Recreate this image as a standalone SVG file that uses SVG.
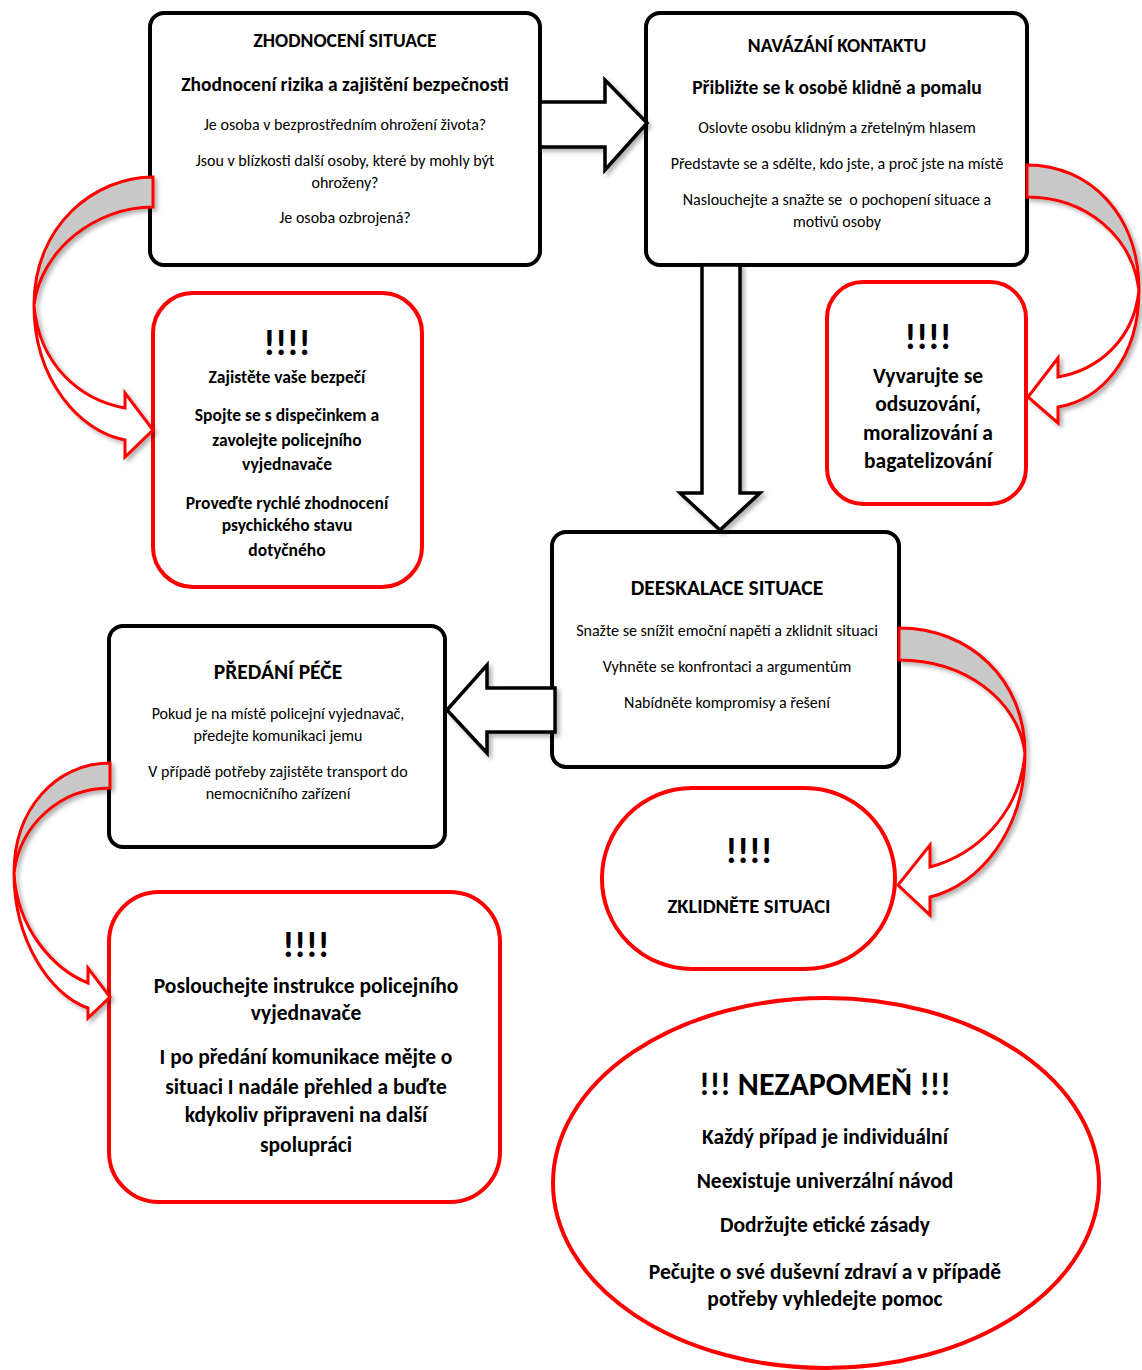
<svg xmlns="http://www.w3.org/2000/svg" width="1142" height="1370" viewBox="0 0 1142 1370">
<style>
text{font-family:Carlito,Lato,"Open Sans","Liberation Sans",sans-serif;fill:#000;text-anchor:middle}
.bx{fill:#fff;stroke:#000;stroke-width:4}
.rb{fill:#fff;stroke:#ff0000;stroke-width:4}
.ba{fill:#fff;stroke:#000;stroke-width:3.5;stroke-linejoin:miter}
.cg{fill:#c8c8c8;stroke:#ff0000;stroke-width:3;stroke-linejoin:miter}
.cw{fill:#fff;stroke:#ff0000;stroke-width:3;stroke-linejoin:miter}
.h{font-size:19.5px;font-weight:600}
.s{font-size:19.5px;font-weight:700}
.n{font-size:16px}
.ex{font-size:36px;font-weight:700}
.rt{font-size:17.5px;font-weight:700}
.rt2{font-size:21.5px;font-weight:700}
.h2{font-size:21.5px;font-weight:700}
</style>
<defs>
<filter id="sh" x="-20%" y="-20%" width="150%" height="150%">
<feDropShadow dx="3" dy="3" stdDeviation="2" flood-color="#000" flood-opacity="0.3"/>
</filter>
</defs>
<rect width="1142" height="1370" fill="#fff"/>

<g id="n1">
<rect class="bx" x="150" y="13" width="390" height="252" rx="14"/>
<text class="h" x="345" y="47">ZHODNOCENÍ SITUACE</text>
<text class="s" x="345" y="91">Zhodnocení rizika a zajištění bezpečnosti</text>
<text class="n" x="345" y="130">Je osoba v bezprostředním ohrožení života?</text>
<text class="n" x="345" y="166">Jsou v blízkosti další osoby, které by mohly být</text>
<text class="n" x="345" y="188">ohroženy?</text>
<text class="n" x="345" y="223">Je osoba ozbrojená?</text>
</g>

<g id="n2">
<rect class="bx" x="646" y="13" width="381" height="252" rx="14"/>
<text class="h" x="837" y="52">NAVÁZÁNÍ KONTAKTU</text>
<text class="s" x="837" y="94">Přibližte se k osobě klidně a pomalu</text>
<text class="n" x="837" y="133">Oslovte osobu klidným a zřetelným hlasem</text>
<text class="n" x="837" y="169">Představte se a sdělte, kdo jste, a proč jste na místě</text>
<text class="n" x="837" y="205" xml:space="preserve">Naslouchejte a snažte se  o pochopení situace a</text>
<text class="n" x="837" y="227">motivů osoby</text>
</g>

<g id="n3">
<rect class="rb" x="153" y="293" width="269" height="294" rx="40"/>
<text class="ex" x="287" y="355">!!!!</text>
<text class="rt" x="287" y="383">Zajistěte vaše bezpečí</text>
<text class="rt" x="287" y="421">Spojte se s dispečinkem a</text>
<text class="rt" x="287" y="446">zavolejte policejního</text>
<text class="rt" x="287" y="470">vyjednavače</text>
<text class="rt" x="287" y="509">Proveďte rychlé zhodnocení</text>
<text class="rt" x="287" y="531">psychického stavu</text>
<text class="rt" x="287" y="556">dotyčného</text>
</g>

<g id="n4">
<rect class="rb" x="827" y="282" width="199" height="222" rx="36"/>
<text class="ex" x="928" y="349">!!!!</text>
<text class="rt2" x="928" y="383">Vyvarujte se</text>
<text class="rt2" x="928" y="411">odsuzování,</text>
<text class="rt2" x="928" y="440">moralizování a</text>
<text class="rt2" x="928" y="468">bagatelizování</text>
</g>

<g id="n5">
<rect class="bx" x="552" y="532" width="347" height="235" rx="14"/>
<text class="h2" x="727" y="595">DEESKALACE SITUACE</text>
<text class="n" x="727" y="636">Snažte se snížit emoční napětí a zklidnit situaci</text>
<text class="n" x="727" y="672">Vyhněte se konfrontaci a argumentům</text>
<text class="n" x="727" y="708">Nabídněte kompromisy a řešení</text>
</g>

<g id="n6">
<rect class="bx" x="109" y="626" width="336" height="221" rx="14"/>
<text class="h2" x="278" y="679">PŘEDÁNÍ PÉČE</text>
<text class="n" x="278" y="719">Pokud je na místě policejní vyjednavač,</text>
<text class="n" x="278" y="741">předejte komunikaci jemu</text>
<text class="n" x="278" y="777">V případě potřeby zajistěte transport do</text>
<text class="n" x="278" y="799">nemocničního zařízení</text>
</g>

<g id="n7">
<rect class="rb" x="602" y="788" width="293" height="181" rx="90"/>
<text class="ex" x="749" y="863">!!!!</text>
<text x="749" y="913" style="font-size:20.5px;font-weight:700">ZKLIDNĚTE SITUACI</text>
</g>

<g id="n8">
<rect class="rb" x="109" y="892" width="391" height="310" rx="50"/>
<text class="ex" x="306" y="957">!!!!</text>
<text class="rt2" x="306" y="993">Poslouchejte instrukce policejního</text>
<text class="rt2" x="306" y="1020">vyjednavače</text>
<text class="rt2" x="306" y="1064">I po předání komunikace mějte o</text>
<text class="rt2" x="306" y="1094">situaci I nadále přehled a buďte</text>
<text class="rt2" x="306" y="1122">kdykoliv připraveni na další</text>
<text class="rt2" x="306" y="1152">spolupráci</text>
</g>

<g id="n9">
<ellipse class="rb" cx="826" cy="1183" rx="273" ry="185"/>
<text x="825" y="1095" style="font-size:32px;font-weight:700">!!! NEZAPOMEŇ !!!</text>
<text class="rt2" x="825" y="1144">Každý případ je individuální</text>
<text class="rt2" x="825" y="1188">Neexistuje univerzální návod</text>
<text class="rt2" x="825" y="1232">Dodržujte etické zásady</text>
<text class="rt2" x="825" y="1279">Pečujte o své duševní zdraví a v případě</text>
<text class="rt2" x="825" y="1306">potřeby vyhledejte pomoc</text>
</g>

<g id="connectors">
<polygon class="ba" filter="url(#sh)" points="540,102 605,102 605,80 647,123 605,170 605,147 540,147"/>
<polygon class="ba" filter="url(#sh)" points="702,265 702,493 680,493 720,530 760,493 740,493 740,265"/>
<polygon class="ba" filter="url(#sh)" points="555,688 487,688 487,665 447,710 487,753 487,732 555,732"/>

<g filter="url(#sh)">
<path class="cg" d="M153,177 C95,177 34,225 34,305 C41,250 95,207 153,207 Z"/>
<path class="cw" d="M34,305 C34,380 80,432 125,440 L125,457 L153,430 L125,393 L125,408 C80,400 39,365 34,305 Z"/>
</g>
<g filter="url(#sh)">
<path class="cg" d="M1027,165 C1090,165 1139,215 1139,290 C1132,235 1085,197 1027,197 Z"/>
<path class="cw" d="M1139,290 C1139,360 1100,400 1058,407 L1058,423 L1028,397 L1058,358 L1058,377 C1098,370 1134,340 1139,290 Z"/>
</g>
<g filter="url(#sh)">
<path class="cg" d="M899,628 C970,628 1025,680 1025,753 C1018,700 965,660 899,660 Z"/>
<path class="cw" d="M1025,753 C1025,830 980,885 930,897 L930,915 L898,885 L930,845 L930,867 C975,855 1020,815 1025,753 Z"/>
</g>
<g filter="url(#sh)">
<path class="cg" d="M110,763 C55,763 14,810 14,873 C20,825 60,788 110,788 Z"/>
<path class="cw" d="M14,873 C14,940 50,995 88,1008 L88,1018 L110,997 L88,968 L88,983 C55,970 17,930 14,873 Z"/>
</g>
</g>
</svg>
